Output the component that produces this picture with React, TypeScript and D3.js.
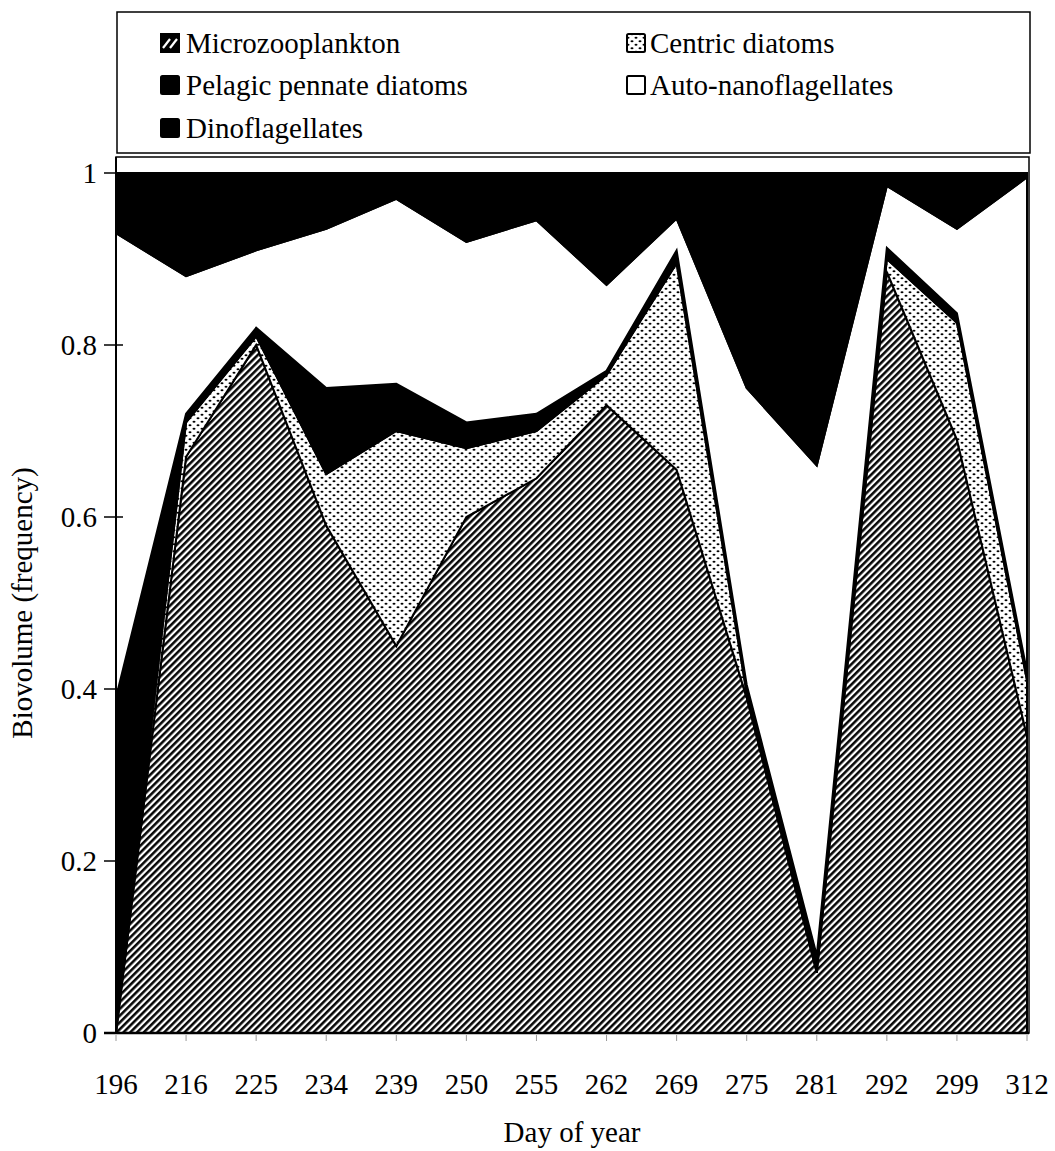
import React, { useEffect, useRef } from 'react';
import * as d3 from 'd3';

// Day of year (category axis, equally spaced)
const days = ['196', '216', '225', '234', '239', '250', '255', '262', '269', '275', '281', '292', '299', '312'];

// Biovolume fractions per group (stacked bottom -> top)
const microzooplankton = [0, 0.67, 0.8, 0.59, 0.45, 0.6, 0.645, 0.73, 0.655, 0.39, 0.07, 0.885, 0.69, 0.345];
const centricDiatoms = [0, 0.04, 0.01, 0.06, 0.25, 0.08, 0.055, 0.035, 0.24, 0.005, 0.005, 0.015, 0.136, 0.065];
const pelagicPennate = [0.39, 0.01, 0.01, 0.1, 0.055, 0.03, 0.02, 0.005, 0.015, 0.01, 0.015, 0.013, 0.011, 0.01];
const autoNano = [0.54, 0.16, 0.09, 0.185, 0.215, 0.21, 0.225, 0.1, 0.037, 0.345, 0.57, 0.072, 0.098, 0.575];
const dinoflagellates = [0.07, 0.12, 0.09, 0.065, 0.03, 0.08, 0.055, 0.13, 0.053, 0.25, 0.34, 0.015, 0.065, 0.005];

const seriesNames = ['Microzooplankton', 'Centric diatoms', 'Pelagic pennate diatoms', 'Auto-nanoflagellates', 'Dinoflagellates'];
const yTicks = [0, 0.2, 0.4, 0.6, 0.8, 1];

const FONT = '"Liberation Serif", "Times New Roman", serif';

const App: React.FC = () => {
    const svgRef = useRef<SVGSVGElement>(null);

    useEffect(() => {
        if (!svgRef.current) return;
        const width = 1055;
        const height = 1151;

        const svg = d3.select(svgRef.current);
        svg.selectAll('*').remove();
        svg.attr('width', width).attr('height', height).attr('viewBox', `0 0 ${width} ${height}`);

        svg.append('rect').attr('width', width).attr('height', height).attr('fill', '#fff');

        // patterns
        const defs = svg.append('defs');
        const hatch = defs.append('pattern')
            .attr('id', 'hatch')
            .attr('patternUnits', 'userSpaceOnUse')
            .attr('width', 4.8)
            .attr('height', 4.8)
            .attr('patternTransform', 'rotate(45)');
        hatch.append('rect').attr('width', 4.8).attr('height', 4.8).attr('fill', '#fff');
        hatch.append('line')
            .attr('x1', 1.3).attr('y1', 0).attr('x2', 1.3).attr('y2', 4.8)
            .attr('stroke', '#000').attr('stroke-width', 2.5);

        const dots = defs.append('pattern')
            .attr('id', 'dots')
            .attr('patternUnits', 'userSpaceOnUse')
            .attr('width', 8)
            .attr('height', 7);
        dots.append('rect').attr('width', 8).attr('height', 7).attr('fill', '#fff');
        dots.append('ellipse').attr('cx', 2).attr('cy', 1.75).attr('rx', 1.5).attr('ry', 1).attr('fill', '#000');
        dots.append('ellipse').attr('cx', 6).attr('cy', 5.25).attr('rx', 1.5).attr('ry', 1).attr('fill', '#000');

        const fills = ['url(#hatch)', 'url(#dots)', '#000', '#fff', '#000'];

        const x = d3.scalePoint<string>().domain(days).range([116, 1027]);
        const y = d3.scaleLinear().domain([0, 1]).range([1033, 173]);

        const table = days.map((d, i) => ({
            day: d,
            m: microzooplankton[i],
            c: centricDiatoms[i],
            p: pelagicPennate[i],
            a: autoNano[i],
            d: dinoflagellates[i]
        }));
        const stack = d3.stack<any>().keys(['m', 'c', 'p', 'a', 'd']);
        const layers = stack(table);

        const area = d3.area<any>()
            .x(d => x(d.data.day) as number)
            .y0(d => y(d[0]))
            .y1(d => y(d[1]));

        // plot frame
        svg.append('rect')
            .attr('x', 116).attr('y', 157)
            .attr('width', 913).attr('height', 876)
            .attr('fill', 'none').attr('stroke', '#000').attr('stroke-width', 1.5);

        svg.append('g')
            .selectAll('path')
            .data(layers)
            .enter()
            .append('path')
            .attr('d', area)
            .attr('fill', (_, i) => fills[i])
            .attr('stroke', '#000')
            .attr('stroke-width', 2)
            .attr('stroke-linejoin', 'miter');

        // axes lines
        svg.append('line')
            .attr('x1', 116).attr('x2', 116).attr('y1', 157).attr('y2', 1034)
            .attr('stroke', '#000').attr('stroke-width', 2);
        svg.append('line')
            .attr('x1', 104).attr('x2', 1029).attr('y1', 1033).attr('y2', 1033)
            .attr('stroke', '#000').attr('stroke-width', 2.5);

        const yAxis = svg.append('g');
        yAxis.selectAll('line')
            .data(yTicks)
            .enter()
            .append('line')
            .attr('x1', 104).attr('x2', 123)
            .attr('y1', d => y(d)).attr('y2', d => y(d))
            .attr('stroke', '#000').attr('stroke-width', 1.5);
        yAxis.selectAll('text')
            .data(yTicks)
            .enter()
            .append('text')
            .attr('x', 97)
            .attr('y', d => y(d))
            .attr('dy', '0.35em')
            .attr('text-anchor', 'end')
            .attr('font-family', FONT)
            .attr('font-size', 29)
            .attr('fill', '#000')
            .text(d => d3.format('~g')(d));

        // x axis ticks + labels
        const xAxis = svg.append('g');
        xAxis.selectAll('line')
            .data(days)
            .enter()
            .append('line')
            .attr('x1', d => x(d) as number).attr('x2', d => x(d) as number)
            .attr('y1', 1035).attr('y2', 1041)
            .attr('stroke', '#999').attr('stroke-width', 1);
        xAxis.selectAll('text')
            .data(days)
            .enter()
            .append('text')
            .attr('x', d => x(d) as number)
            .attr('y', 1094)
            .attr('text-anchor', 'middle')
            .attr('font-family', FONT)
            .attr('font-size', 29)
            .attr('fill', '#000')
            .text(d => d);

        svg.append('text')
            .attr('x', 572).attr('y', 1142)
            .attr('text-anchor', 'middle')
            .attr('font-family', FONT)
            .attr('font-size', 29)
            .text('Day of year');

        svg.append('text')
            .attr('transform', `translate(32, ${(173 + 1033) / 2}) rotate(-90)`)
            .attr('text-anchor', 'middle')
            .attr('font-family', FONT)
            .attr('font-size', 29)
            .text('Biovolume (frequency)');

        // legend
        svg.append('rect')
            .attr('x', 117).attr('y', 12)
            .attr('width', 913).attr('height', 141)
            .attr('fill', '#fff').attr('stroke', '#000').attr('stroke-width', 1.5);

        const legendPos = [
            { x: 160, y: 43 },
            { x: 626, y: 43 },
            { x: 160, y: 85 },
            { x: 626, y: 85 },
            { x: 160, y: 128 }
        ];
        seriesNames.forEach((name, i) => {
            const p = legendPos[i];
            const g = svg.append('g').attr('transform', `translate(${p.x}, ${p.y})`);
            if (i === 0) {
                g.append('rect').attr('x', 0).attr('y', -10).attr('width', 20).attr('height', 20).attr('fill', '#000');
                g.append('line').attr('x1', 3).attr('y1', 5).attr('x2', 10).attr('y2', -4).attr('stroke', '#fff').attr('stroke-width', 2.2);
                g.append('line').attr('x1', 10).attr('y1', 5).attr('x2', 17).attr('y2', -4).attr('stroke', '#fff').attr('stroke-width', 2.2);
            } else {
                g.append('rect')
                    .attr('x', 1).attr('y', -9).attr('width', 18).attr('height', 18)
                    .attr('rx', 1.5)
                    .attr('fill', fills[i])
                    .attr('stroke', '#000').attr('stroke-width', 2);
            }
            g.append('text')
                .attr('x', i % 2 === 0 ? 26 : 24)
                .attr('y', 0)
                .attr('dy', '0.35em')
                .attr('font-family', FONT)
                .attr('font-size', 29)
                .attr('fill', '#000')
                .text(name);
        });
    }, []);

    return <svg ref={svgRef} style={{ position: 'absolute', left: 0, top: 0, display: 'block' }}></svg>;
};

export default App;
